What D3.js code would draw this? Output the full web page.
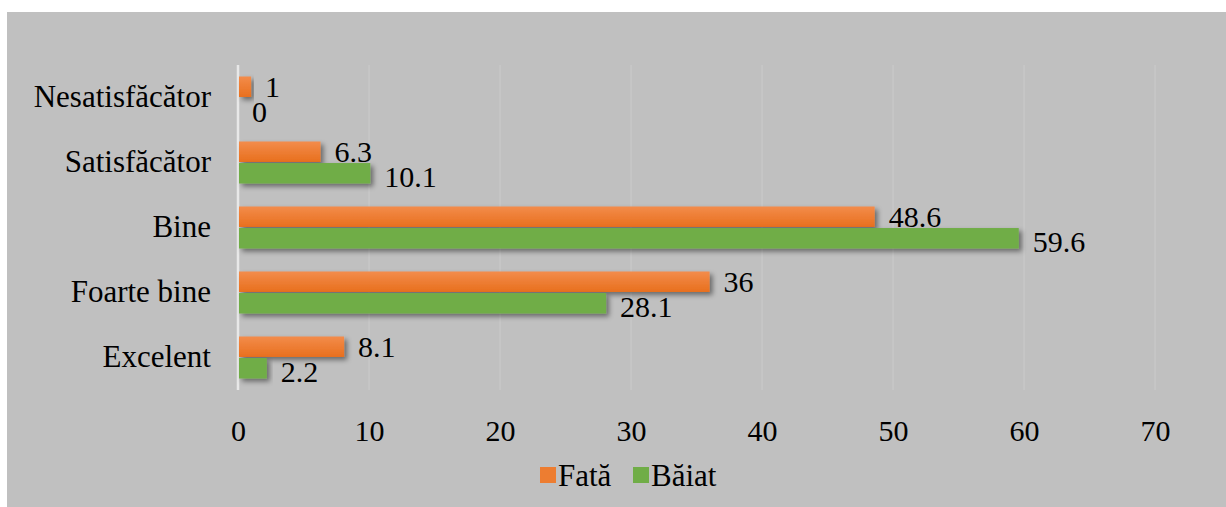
<!DOCTYPE html>
<html>
<head>
<meta charset="utf-8">
<script src="https://cdn.jsdelivr.net/npm/d3@7"></script>
<style>
  body { margin: 0; background: #fff; }
  svg text { font-family: "Liberation Serif", "Times New Roman", Times, serif !important; fill: #000; }
</style>
</head>
<body>
<svg id="chart"></svg>
<script>
// categories, top to bottom
const categories = ['Nesatisfăcător', 'Satisfăcător', 'Bine', 'Foarte bine', 'Excelent'];
const seriesNames = ['Fată', 'Băiat'];
const fata = [1, 6.3, 48.6, 36, 8.1];
const baiat = [0, 10.1, 59.6, 28.1, 2.2];
const xTicks = [0, 10, 20, 30, 40, 50, 60, 70];

const width = 1226;
const height = 507;
const serif = '"Liberation Serif", "Times New Roman", Times, serif';
const colors = { 'Fată': '#ed7d31', 'Băiat': '#70ad47' };

const svg = d3.select('#chart')
    .attr('width', width)
    .attr('height', height)
    .attr('font-family', serif);

// gradient + shadow like the office chart
const defs = svg.append('defs');
const grad = defs.append('linearGradient')
    .attr('id', 'orangeGrad')
    .attr('x1', 0).attr('y1', 0).attr('x2', 0).attr('y2', 1);
grad.append('stop').attr('offset', '0%').attr('stop-color', '#f38c4b');
grad.append('stop').attr('offset', '100%').attr('stop-color', '#e86f1d');

const shadow = defs.append('filter')
    .attr('id', 'shadow')
    .attr('x', '-10%').attr('y', '-30%')
    .attr('width', '130%').attr('height', '180%');
shadow.append('feDropShadow')
    .attr('dx', 3).attr('dy', 3)
    .attr('stdDeviation', 2.5)
    .attr('flood-color', '#000')
    .attr('flood-opacity', 0.45);

// background panel
svg.append('rect')
    .attr('x', 7).attr('y', 12)
    .attr('width', width - 7).attr('height', height - 12)
    .attr('fill', '#c0c0c0');

const x = d3.scaleLinear()
    .domain([0, 70])
    .range([238, 1155]);

const y = d3.scaleBand()
    .domain(categories)
    .range([65, 390]);

const sub = d3.scaleBand()
    .domain(seriesNames)
    .range([0, 42])
    .paddingInner(0.05);

// gridlines
svg.append('g')
    .selectAll('line')
    .data(xTicks.slice(1))
    .join('line')
    .attr('x1', d => x(d)).attr('x2', d => x(d))
    .attr('y1', 65).attr('y2', 390)
    .attr('stroke', '#cbcbcb')
    .attr('stroke-width', 1);

// zero line
svg.append('line')
    .attr('x1', x(0)).attr('x2', x(0))
    .attr('y1', 65).attr('y2', 390)
    .attr('stroke', '#e8e8e8')
    .attr('stroke-width', 2.5);

// x axis labels
const xAxis = svg.append('g')
    .attr('transform', 'translate(0,420)')
    .call(d3.axisBottom(x).tickValues(xTicks).tickSize(0).tickPadding(0))
    .attr('font-family', serif)
    .attr('font-size', 30);
xAxis.select('.domain').remove();
xAxis.selectAll('text')
    .attr('dy', '0.71em');

// y axis labels
const yAxis = svg.append('g')
    .attr('transform', `translate(${x(0) - 27},0)`)
    .call(d3.axisLeft(y).tickSize(0).tickPadding(0))
    .attr('font-family', serif)
    .attr('font-size', 31);
yAxis.select('.domain').remove();

const rows = categories.map((c, i) => ({ cat: c, 'Fată': fata[i], 'Băiat': baiat[i] }));
const offset = (y.bandwidth() - 42) / 2;

const groups = svg.append('g')
    .selectAll('g')
    .data(rows)
    .join('g')
    .attr('transform', d => `translate(0,${y(d.cat) + offset})`);

const items = groups.selectAll('g')
    .data(d => seriesNames.map(s => ({ s, v: d[s] })))
    .join('g');

items.filter(d => d.v > 0)
    .append('rect')
    .attr('x', x(0) + 1)
    .attr('y', d => sub(d.s))
    .attr('width', d => x(d.v) - x(0) - 1)
    .attr('height', sub.bandwidth())
    .attr('fill', d => d.s === 'Fată' ? 'url(#orangeGrad)' : colors[d.s])
    .attr('filter', 'url(#shadow)');

// data labels
items.append('text')
    .attr('x', d => x(d.v) + 14)
    .attr('y', d => sub(d.s) + sub.bandwidth() / 2 + (d.s === 'Fată' ? 0 : 3))
    .attr('dominant-baseline', 'central')
    .attr('font-family', serif)
    .attr('font-size', 30)
    .text(d => d.v);

// legend
const legend = svg.append('g').attr('transform', 'translate(540,475)');
const legX = [0, 93];
seriesNames.forEach((s, i) => {
    legend.append('rect')
        .attr('x', legX[i]).attr('y', -8)
        .attr('width', 16).attr('height', 16)
        .attr('fill', colors[s]);
    legend.append('text')
        .attr('x', legX[i] + 18).attr('y', 0)
        .attr('dominant-baseline', 'central')
        .attr('font-family', serif)
        .attr('font-size', 31)
        .text(s);
});
</script>
</body>
</html>
